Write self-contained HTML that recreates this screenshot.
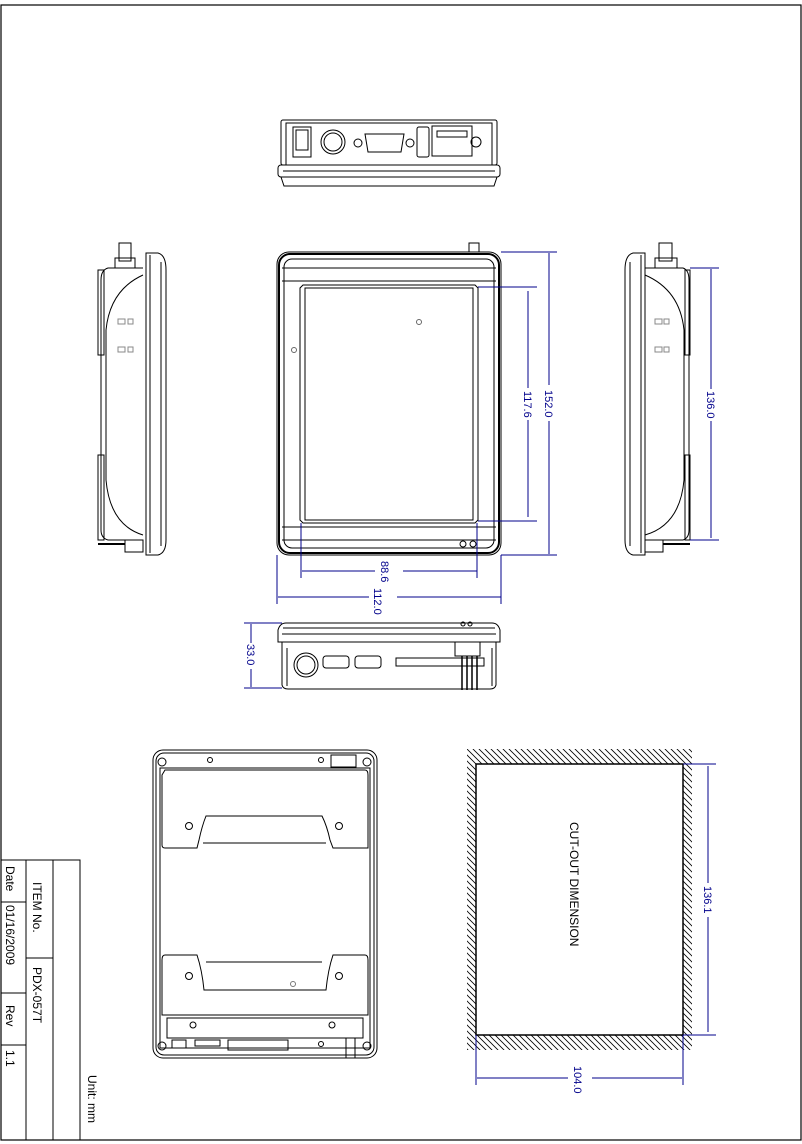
<!DOCTYPE html>
<html><head><meta charset="utf-8"><style>
html,body{margin:0;padding:0;background:#fff;}
svg{display:block;}
text{font-family:"Liberation Sans",sans-serif;}
</style></head><body>
<svg width="802" height="1144" viewBox="0 0 802 1144" xmlns="http://www.w3.org/2000/svg">
<defs>
<pattern id="hat" width="6" height="6" patternUnits="userSpaceOnUse">
<path d="M0 0 L6 6 M-3 3 L3 9 M3 -3 L9 3" stroke="#000" stroke-width="0.8"/>
</pattern>
</defs>
<rect x="1" y="5" width="800" height="1135" fill="none" stroke="#000" stroke-width="1.2"/>

<g fill="none" stroke="#000" stroke-width="1">
<!-- TOP VIEW -->
<rect x="281" y="120" width="216" height="45" rx="2"/>
<rect x="286" y="123" width="206" height="42"/>
<rect x="278" y="165" width="222" height="12" rx="3"/>
<path d="M281 177 L284 186 L494 186 L497 177"/>
<line x1="283" y1="171" x2="495" y2="171"/>
<rect x="293" y="127" width="18" height="30"/>
<rect x="296" y="130" width="12" height="20"/>
<circle cx="333" cy="142" r="12"/><circle cx="333" cy="142" r="9"/>
<path d="M365 134 L404 134 L401 152 L368 152 Z"/>
<circle cx="358" cy="143" r="4"/><circle cx="410" cy="143" r="4"/>
<rect x="417" y="127" width="12" height="30" rx="2"/>
<rect x="432" y="126" width="40" height="30"/>
<path d="M437 131 L467 131 L467 137 L437 137 Z"/>
<circle cx="476" cy="142" r="5"/>

<!-- FRONT VIEW -->
<rect x="277" y="252" width="224" height="303" rx="12"/>
<rect x="279" y="254" width="220" height="299" rx="11" stroke-width="2"/>
<rect x="284" y="259" width="210" height="289" rx="8"/>
<line x1="282" y1="268" x2="496" y2="268"/>
<line x1="282" y1="281" x2="496" y2="281"/>
<line x1="282" y1="527" x2="496" y2="527"/>
<line x1="282" y1="540" x2="496" y2="540"/>
<path d="M303 285 L475 285 L478 288 L478 520 L475 523 L303 523 L300 520 L300 288 Z"/>
<path d="M305 288 L473 288 L473 520 L305 520 Z"/>
<rect x="469" y="243" width="10" height="9"/>
<circle cx="419" cy="322" r="2.5" stroke="#666"/>
<circle cx="294" cy="350" r="2.5" stroke="#666"/>
<circle cx="463" cy="544" r="3"/><circle cx="473" cy="544" r="3"/>

<!-- LEFT SIDE VIEW -->
<path d="M146 253 L158 253 Q166 255 166 270 L166 540 Q166 553 158 555 L146 555 Z"/>
<line x1="150" y1="255" x2="150" y2="553"/>
<line x1="161" y1="262" x2="161" y2="546"/>
<path d="M143 268 L108 268 Q101 270 101 280 L101 530 Q101 538 108 540 L143 540"/>
<path d="M143 275 Q110 290 106 330 L106 480 Q110 525 143 535"/>
<rect x="98" y="270" width="6" height="85"/>
<rect x="98" y="455" width="6" height="85"/>
<rect x="119" y="243" width="12" height="18"/>
<rect x="115" y="258" width="20" height="10"/>
<rect x="125" y="540" width="18" height="12"/>
<line x1="98" y1="544" x2="125" y2="544" stroke-width="2"/>
<g stroke="#888"><rect x="118" y="319" width="7" height="5"/><rect x="128" y="319" width="5" height="5"/><rect x="118" y="347" width="7" height="5"/><rect x="128" y="347" width="5" height="5"/></g>

<!-- RIGHT SIDE VIEW -->
<path d="M645 253 L633 253 Q625 255 625 270 L625 540 Q625 553 633 555 L645 555 Z"/>
<line x1="641" y1="255" x2="641" y2="553"/>
<line x1="630" y1="262" x2="630" y2="546"/>
<path d="M645 268 L683 268 Q689 270 689 280 L689 530 Q689 538 683 540 L645 540"/>
<path d="M645 275 Q680 290 684 330 L684 480 Q680 525 645 535"/>
<rect x="685" y="270" width="5" height="85"/>
<rect x="685" y="455" width="5" height="85"/>
<rect x="659" y="243" width="13" height="18"/>
<rect x="655" y="258" width="22" height="10"/>
<rect x="645" y="540" width="18" height="12"/>
<line x1="663" y1="544" x2="690" y2="544" stroke-width="2"/>
<g stroke="#888"><rect x="655" y="319" width="7" height="5"/><rect x="664" y="319" width="5" height="5"/><rect x="655" y="347" width="7" height="5"/><rect x="664" y="347" width="5" height="5"/></g>

<!-- BOTTOM VIEW -->
<path d="M278 642 L278 630 Q280 623 286 623 L492 623 Q498 623 500 630 L500 642 Z"/>
<line x1="283" y1="628" x2="495" y2="628"/>
<line x1="282" y1="634" x2="496" y2="634"/>
<path d="M282 642 L282 685 Q283 689 288 689 L490 689 Q495 689 496 685 L496 642"/>
<line x1="287" y1="648" x2="287" y2="686"/>
<line x1="492" y1="648" x2="492" y2="686"/>
<circle cx="306" cy="665" r="12"/><circle cx="306" cy="665" r="9"/>
<rect x="323" y="656" width="26" height="12" rx="3"/>
<rect x="355" y="656" width="26" height="12" rx="3"/>
<rect x="396" y="658" width="88" height="8"/>
<rect x="455" y="642" width="25" height="14"/>
<g stroke-width="1.5"><line x1="462" y1="656" x2="462" y2="690"/><line x1="467" y1="656" x2="467" y2="690"/><line x1="472" y1="656" x2="472" y2="690"/><line x1="477" y1="656" x2="477" y2="690"/></g>
<circle cx="463" cy="624" r="2"/><circle cx="470" cy="624" r="2"/>

<!-- BACK VIEW -->
<rect x="153" y="750" width="224" height="308" rx="10"/>
<rect x="156" y="753" width="218" height="302" rx="8"/>
<rect x="160" y="768" width="210" height="280"/>
<path d="M165 770 L365 770 Q368 770 368 775 L368 848 L333 848 L330 840 Q327 826 322 816 L206 816 Q202 826 199 840 L197 848 L165 848 Q162 848 162 845 L162 775 Z"/>
<line x1="203" y1="843" x2="326" y2="843"/>
<path d="M165 955 L197 955 Q202 970 204 990 L326 990 Q328 970 333 955 L365 955 Q368 955 368 960 L368 1015 L162 1015 L162 960 Q162 955 165 955 Z"/>
<line x1="206" y1="962" x2="322" y2="962"/>
<rect x="167" y="1018" width="196" height="20"/>
<circle cx="162" cy="762" r="4"/><circle cx="210" cy="760" r="2.5"/><circle cx="321" cy="760" r="2.5"/><circle cx="367" cy="762" r="4"/>
<rect x="331" y="755" width="25" height="12"/>
<circle cx="189" cy="826" r="3.5"/><circle cx="339" cy="826" r="3.5"/>
<circle cx="189" cy="976" r="3.5"/><circle cx="339" cy="976" r="3.5"/>
<circle cx="293" cy="984" r="2.5" stroke="#777"/>
<circle cx="193" cy="1025" r="3"/><circle cx="332" cy="1025" r="3"/>
<circle cx="162" cy="1046" r="4"/><circle cx="367" cy="1046" r="4"/>
<circle cx="321" cy="1044" r="2.5"/>
<rect x="172" y="1040" width="14" height="8"/>
<rect x="195" y="1040" width="25" height="6"/>
<rect x="228" y="1040" width="60" height="10"/>
<rect x="346" y="1038" width="9" height="20"/>

<!-- CUT-OUT -->
<path d="M467 749 L692 749 L692 1050 L467 1050 Z M476 764 L476 1035 L683 1035 L683 764 Z" fill="url(#hat)" fill-rule="evenodd" stroke="none"/>
<rect x="476" y="764" width="207" height="271" stroke-width="1.5"/>
</g>

<!-- DIMENSIONS -->
<g fill="none" stroke="#00008b" stroke-width="1">
<line x1="501" y1="252" x2="557" y2="252"/><line x1="501" y1="555" x2="557" y2="555"/>
<line x1="549" y1="253" x2="549" y2="554"/>
<line x1="478" y1="287" x2="537" y2="287"/><line x1="478" y1="521" x2="537" y2="521"/>
<line x1="528" y1="291" x2="528" y2="517"/>
<line x1="301" y1="523" x2="301" y2="578"/><line x1="477" y1="523" x2="477" y2="578"/>
<line x1="302" y1="571" x2="477" y2="571"/>
<line x1="277" y1="555" x2="277" y2="604"/><line x1="501" y1="555" x2="501" y2="604"/>
<line x1="278" y1="597" x2="501" y2="597"/>
<line x1="690" y1="268" x2="719" y2="268"/><line x1="690" y1="540" x2="719" y2="540"/>
<line x1="711" y1="269" x2="711" y2="538"/>
<line x1="244" y1="623" x2="282" y2="623"/><line x1="244" y1="688" x2="282" y2="688"/>
<line x1="251" y1="624" x2="251" y2="687"/>
<line x1="683" y1="764" x2="716" y2="764"/><line x1="683" y1="1035" x2="716" y2="1035"/>
<line x1="708" y1="766" x2="708" y2="1032"/>
<line x1="476" y1="1035" x2="476" y2="1085"/><line x1="683" y1="1035" x2="683" y2="1085"/>
<line x1="477" y1="1078" x2="682" y2="1078"/>
</g>
<g fill="#00008b" font-size="11">
<rect x="543" y="385" width="12" height="36" fill="#fff"/>
<text transform="translate(545,390) rotate(90)">152.0</text>
<rect x="522" y="388" width="12" height="32" fill="#fff"/>
<text transform="translate(524,391) rotate(90)">117.6</text>
<rect x="375" y="565" width="28" height="12" fill="#fff"/>
<text transform="translate(381,561) rotate(90)">88.6</text>
<rect x="369" y="591" width="28" height="12" fill="#fff"/>
<text transform="translate(374,588) rotate(90)">112.0</text>
<rect x="705" y="389" width="12" height="32" fill="#fff"/>
<text transform="translate(707,391) rotate(90)">136.0</text>
<rect x="245" y="643" width="12" height="26" fill="#fff"/>
<text transform="translate(247,644) rotate(90)">33.0</text>
<rect x="702" y="883" width="12" height="34" fill="#fff"/>
<text transform="translate(704,886) rotate(90)">136.1</text>
<rect x="568" y="1072" width="24" height="12" fill="#fff"/>
<text transform="translate(574,1066) rotate(90)">104.0</text>
</g>
<text transform="translate(570,822) rotate(90)" font-size="12" fill="#000">CUT-OUT DIMENSION</text>

<!-- TITLE BLOCK -->
<g fill="none" stroke="#000" stroke-width="1">
<rect x="1" y="860" width="79" height="280"/>
<line x1="26" y1="860" x2="26" y2="1140"/>
<line x1="53" y1="860" x2="53" y2="1140"/>
<line x1="1" y1="902" x2="26" y2="902"/>
<line x1="1" y1="993" x2="26" y2="993"/>
<line x1="1" y1="1045" x2="26" y2="1045"/>
<line x1="26" y1="958" x2="53" y2="958"/>
</g>
<g fill="#000" font-size="12">
<text transform="translate(6,866) rotate(90)">Date</text>
<text transform="translate(6,905) rotate(90)">01/16/2009</text>
<text transform="translate(6,1005) rotate(90)">Rev</text>
<text transform="translate(6,1050) rotate(90)">1.1</text>
<text transform="translate(33,882) rotate(90)">ITEM No.</text>
<text transform="translate(33,967) rotate(90)">PDX-057T</text>
<text transform="translate(88,1075) rotate(90)">Unit: mm</text>
</g>
</svg>
</body></html>
